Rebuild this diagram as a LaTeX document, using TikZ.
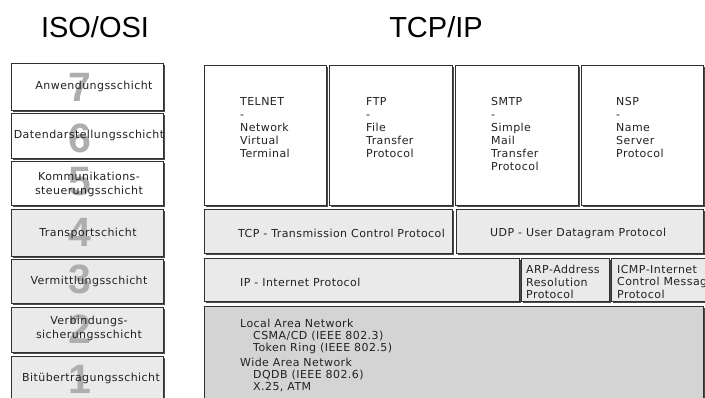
\documentclass[tikz,border=0pt]{standalone}
\usepackage{fontspec}
\setmainfont{Liberation Sans}
\newfontfamily\boxfont[LetterSpace=4]{DejaVu Sans}
\usetikzlibrary{shadows}

\definecolor{paneWhite}{HTML}{FFFFFF}
\definecolor{paneLight}{HTML}{EAEAEA}
\definecolor{paneDark}{HTML}{D4D4D4}
\definecolor{frameLine}{HTML}{303030}
\definecolor{shadowLine}{HTML}{4A4A4A}
\definecolor{digitGray}{HTML}{AEAEAE}
\definecolor{labelInk}{HTML}{222222}

\begin{document}
\begin{tikzpicture}[x=1pt,y=-1pt,
  layerbox/.style={draw=frameLine, line width=0.8pt, inner sep=0pt, anchor=north west,
    drop shadow={shadow xshift=1.8pt, shadow yshift=-1.6pt, fill=shadowLine, opacity=1}},
  whitebox/.style={layerbox, fill=paneWhite},
  lightbox/.style={layerbox, fill=paneLight},
  darkbox/.style={layerbox, fill=paneDark},
  bignum/.style={text=digitGray, font=\bfseries\fontsize{41}{41}\selectfont, inner sep=0pt},
  osilabel/.style={text=labelInk, font=\boxfont\fontsize{11}{14}\selectfont, align=center, inner sep=0pt},
  protolabel/.style={text=labelInk, font=\boxfont\fontsize{11}{13}\selectfont, align=left, inner sep=0pt, anchor=north west},
  heading/.style={font=\fontsize{29}{29}\selectfont, inner sep=0pt}
]
\clip (0,0) rectangle (705,398);
\fill[white] (0,0) rectangle (705,398);

% headings
\node[heading] (osititle) at (95,27) {ISO/OSI};
\node[heading] (tcptitle) at (436,27) {TCP/IP};

% ISO/OSI layer stack
\node[whitebox, minimum width=152pt, minimum height=47pt] (l7) at (11,63) {};
\node[whitebox, minimum width=152pt, minimum height=45pt] (l6) at (11,113) {};
\node[whitebox, minimum width=152pt, minimum height=44pt] (l5) at (11,161) {};
\node[lightbox, minimum width=152pt, minimum height=47pt] (l4) at (11,209) {};
\node[lightbox, minimum width=152pt, minimum height=44pt] (l3) at (11,259) {};
\node[lightbox, minimum width=152pt, minimum height=45pt] (l2) at (11,307) {};
\node[lightbox, minimum width=152pt, minimum height=52pt] (l1) at (11,356) {};

% layer numbers behind the names
\node[bignum] (n7) at (80,87) {7};
\node[bignum] (n6) at (80,138) {6};
\node[bignum] (n5) at (80,182) {5};
\node[bignum] (n4) at (80,232) {4};
\node[bignum] (n3) at (80,279) {3};
\node[bignum] (n2) at (80,329) {2};
\node[bignum] (n1) at (80,379) {1};

% layer names
\node[osilabel] (t7) at (94,86) {Anwendungsschicht};
\node[osilabel] (t6) at (89,135) {Datendarstellungsschicht};
\node[osilabel] (t5) at (89,184) {Kommunikations-\\steuerungsschicht};
\node[osilabel] (t4) at (88,233) {Transportschicht};
\node[osilabel] (t3) at (89,281) {Vermittlungsschicht};
\node[osilabel] (t2) at (89,328) {Verbindungs-\\sicherungsschicht};
\node[osilabel] (t1) at (91,378) {Bitübertragungsschicht};

% TCP/IP: application protocols
\node[whitebox, minimum width=122pt, minimum height=140pt] (telnet) at (204,65) {};
\node[whitebox, minimum width=123pt, minimum height=140pt] (ftp) at (329,65) {};
\node[whitebox, minimum width=123pt, minimum height=140pt] (smtp) at (455,65) {};
\node[whitebox, minimum width=122pt, minimum height=140pt] (nsp) at (581,65) {};

% transport
\node[lightbox, minimum width=248pt, minimum height=44pt] (tcp) at (204,209) {};
\node[lightbox, minimum width=247pt, minimum height=44pt] (udp) at (456,209) {};

% internet
\node[lightbox, minimum width=315pt, minimum height=43pt] (ip) at (204,258) {};
\node[lightbox, minimum width=88pt, minimum height=43pt] (arp) at (521,258) {};
\node[lightbox, minimum width=100pt, minimum height=43pt] (icmp) at (611,258) {};

% network access
\node[darkbox, minimum width=499pt, minimum height=100pt] (net) at (204,306) {};

% protocol texts
\node[protolabel] (telnettext) at (240,97) {TELNET\\-\\Network\\Virtual\\Terminal};
\node[protolabel] (ftptext) at (366,97) {FTP\\-\\File\\Transfer\\Protocol};
\node[protolabel] (smtptext) at (491,97) {SMTP\\-\\Simple\\Mail\\Transfer\\Protocol};
\node[protolabel] (nsptext) at (616,97) {NSP\\-\\Name\\Server\\Protocol};

\node[protolabel, anchor=west] (tcptext) at (238,233) {TCP - Transmission Control Protocol};
\node[protolabel, anchor=west] (udptext) at (490,233) {UDP - User Datagram Protocol};
\node[protolabel, anchor=west] (iptext) at (240,282) {IP - Internet Protocol};
\node[protolabel, font=\boxfont\fontsize{11}{12.5}\selectfont] (arptext) at (526,265) {ARP-Address\\Resolution\\Protocol};
\node[protolabel, font=\boxfont\fontsize{11}{12.5}\selectfont] (icmptext) at (617,265) {ICMP-Internet\\Control Message\\Protocol};

\node[protolabel, font=\boxfont\fontsize{11}{12}\selectfont] (nettext) at (240,319)
  {Local Area Network\\
   \hspace*{13pt}CSMA/CD (IEEE 802.3)\\
   \hspace*{13pt}Token Ring (IEEE 802.5)\\[3pt]
   Wide Area Network\\
   \hspace*{13pt}DQDB (IEEE 802.6)\\
   \hspace*{13pt}X.25, ATM};
\end{tikzpicture}
\end{document}
